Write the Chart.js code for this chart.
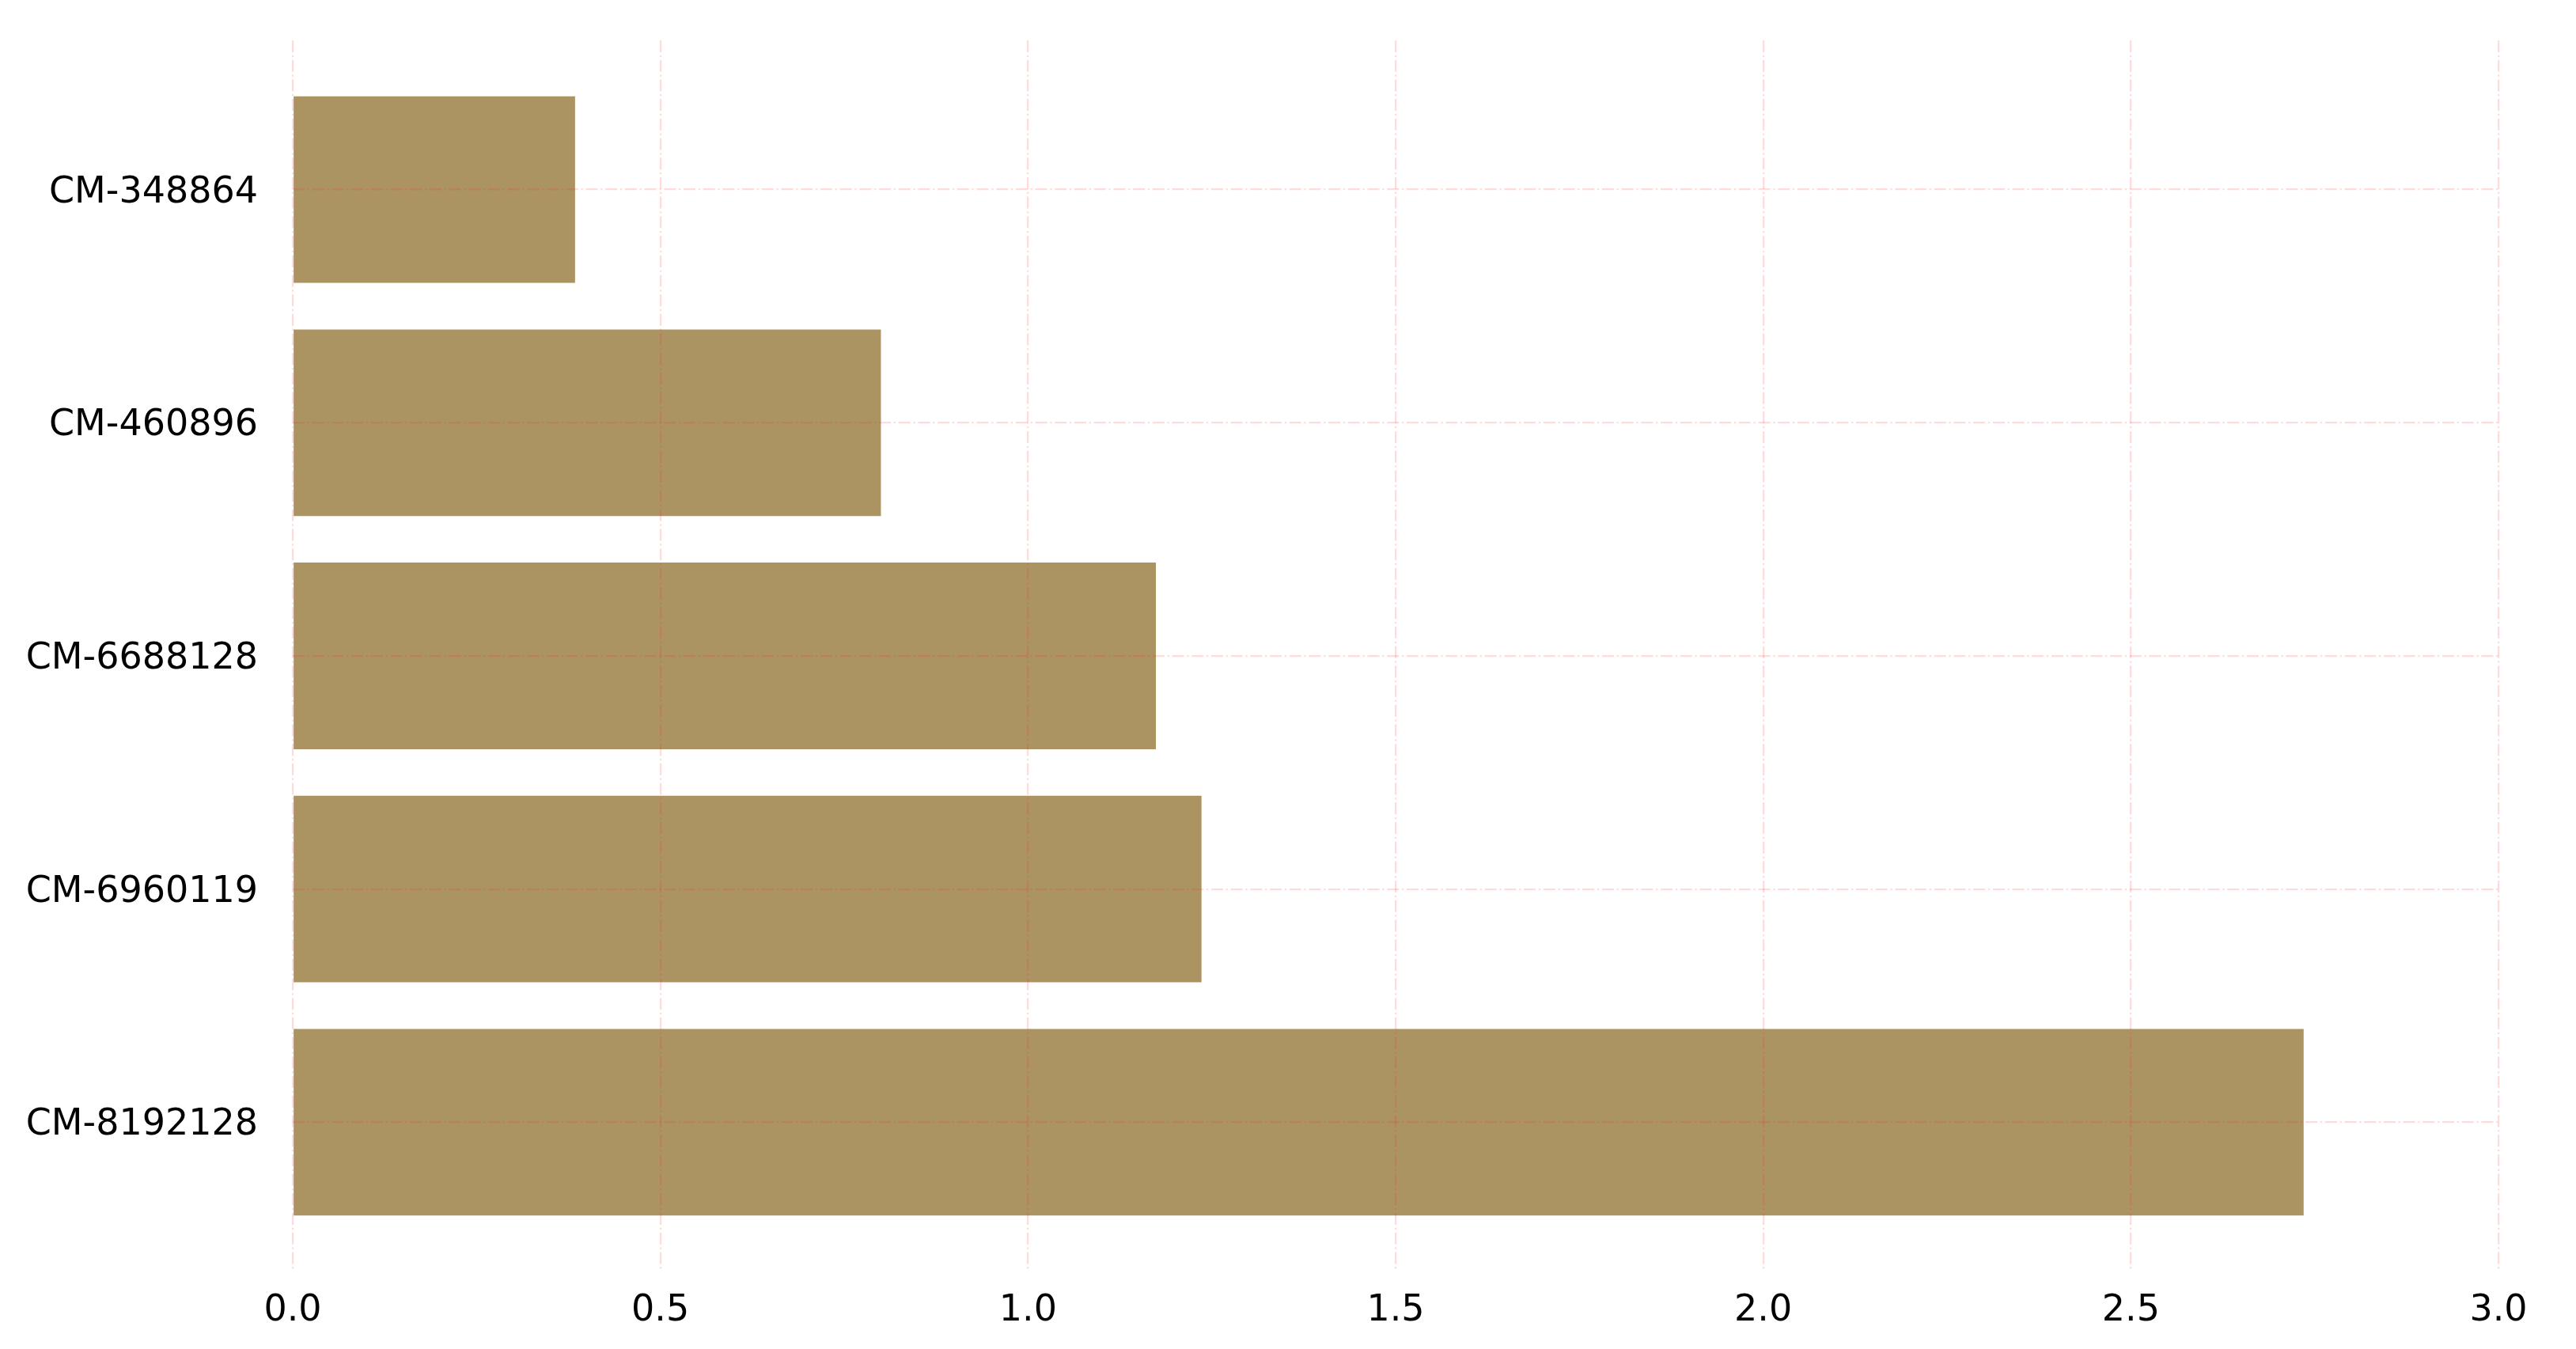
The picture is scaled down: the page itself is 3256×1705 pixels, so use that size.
<!DOCTYPE html>
<html>
<head>
<meta charset="utf-8">
<script src="https://cdn.jsdelivr.net/npm/chart.js@4/dist/chart.umd.min.js"></script>
<style>
  html, body { margin: 0; padding: 0; background: #ffffff; }
  #wrap { width: 3256px; height: 1705px; position: relative; }
  canvas { display: block; }
</style>
</head>
<body>
<div id="wrap"><canvas id="c" width="3256" height="1705"></canvas></div>
<script>
// Categories listed bottom to top (index 0 at the bottom of the chart)
const categories = ['CM-8192128', 'CM-6960119', 'CM-6688128', 'CM-460896', 'CM-348864'];
const values = [2.735, 1.236, 1.174, 0.800, 0.384];
const xTicks = [0.0, 0.5, 1.0, 1.5, 2.0, 2.5, 3.0];

const FONT = "'DejaVu Sans', 'Liberation Sans', sans-serif";
const gridColor = 'rgba(255, 40, 40, 0.17)';
const dashPattern = [15, 3.7, 2.3, 3.7];

const ctx = document.getElementById('c').getContext('2d');
new Chart(ctx, {
  type: 'bar',
  data: {
    datasets: [{
      data: values.map((v, i) => ({ x: v, y: i })),
      backgroundColor: 'rgb(171, 147, 98)',
      borderWidth: 0,
      barPercentage: 0.8,
      categoryPercentage: 1.0
    }]
  },
  options: {
    indexAxis: 'y',
    responsive: false,
    animation: false,
    devicePixelRatio: 1,
    layout: { padding: { top: 51, right: 98, left: 0, bottom: 0 } },
    plugins: { legend: { display: false }, tooltip: { enabled: false } },
    scales: {
      x: {
        type: 'linear',
        position: 'bottom',
        min: 0,
        max: 3,
        offset: false,
        afterBuildTicks: (s) => { s.ticks = xTicks.map(v => ({ value: v })); },
        afterFit: (s) => { s.height = 98; },
        ticks: {
          font: { family: FONT, size: 46 },
          color: '#000000',
          padding: 22,
          maxRotation: 0,
          autoSkip: false,
          callback: (v) => Number(v).toFixed(1)
        },
        grid: {
          offset: false,
          color: gridColor,
          lineWidth: 2.3,
          drawTicks: false,
          borderDash: dashPattern,
          z: 1
        },
        border: { display: false, dash: dashPattern }
      },
      y: {
        type: 'linear',
        position: 'left',
        min: -0.64,
        max: 4.64,
        offset: false,
        afterBuildTicks: (s) => { s.ticks = categories.map((c, i) => ({ value: i })); },
        afterFit: (s) => { s.width = 370; },
        ticks: {
          font: { family: FONT, size: 46 },
          color: '#000000',
          padding: 0,
          labelOffset: 4,
          autoSkip: false,
          callback: (v) => categories[v]
        },
        grid: {
          offset: false,
          color: gridColor,
          lineWidth: 2.3,
          drawTicks: true,
          tickLength: 44,
          tickColor: 'rgba(0,0,0,0)',
          borderDash: dashPattern,
          z: 1
        },
        border: { display: false, dash: dashPattern }
      }
    }
  }
});
</script>
</body>
</html>
